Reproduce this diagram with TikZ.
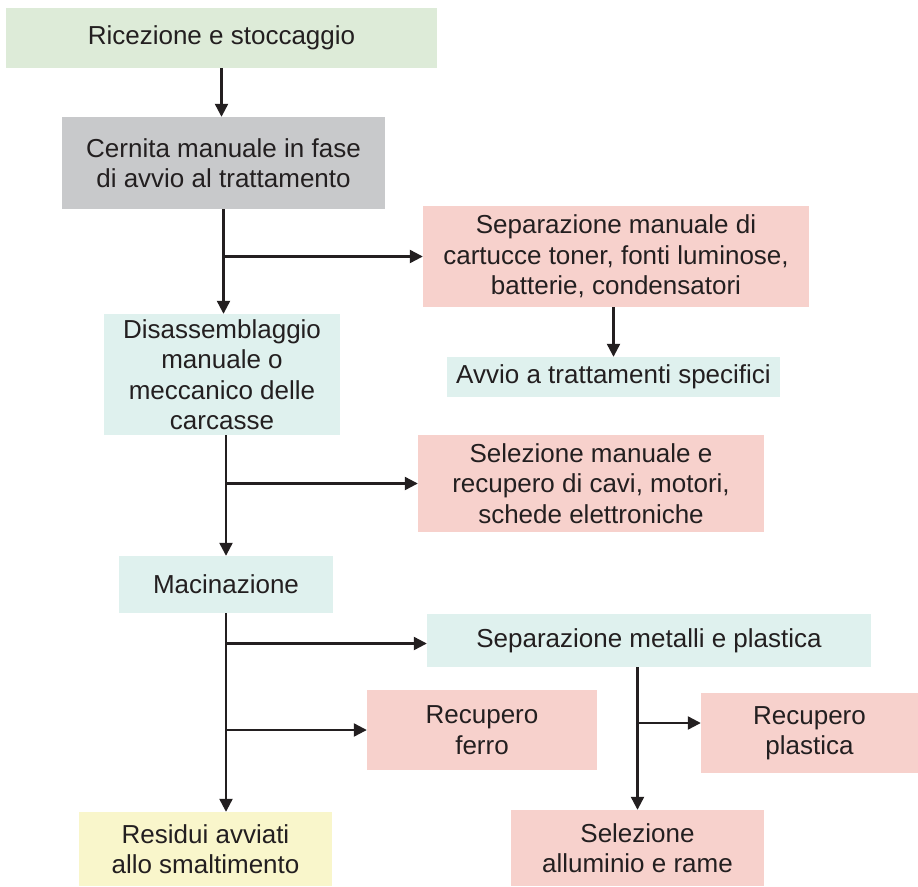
\documentclass[tikz,border=0pt]{standalone}
\usepackage{fontspec}
\setmainfont{Liberation Sans}
\usepackage{tikz}
\usetikzlibrary{arrows.meta,calc}

\definecolor{verde}{HTML}{DDEBD8}
\definecolor{grigio}{HTML}{C8C9CB}
\definecolor{rosa}{HTML}{F7D1CC}
\definecolor{azzurro}{HTML}{DFF1EE}
\definecolor{giallo}{HTML}{F9F6CB}
\definecolor{inchiostro}{HTML}{231F20}

\begin{document}
\begin{tikzpicture}[x=1pt,y=-1pt]
\useasboundingbox (0,0) rectangle (918,886);
\begin{scope}[every node/.style={rectangle,inner sep=0pt,align=center,text=inchiostro,
              font=\fontsize{26}{30.5}\selectfont}]
    \node (A)[fill=verde,minimum width=431pt,minimum height=60pt] at (221.5,38) {Ricezione e stoccaggio};
    \node (B)[fill=grigio,minimum width=323pt,minimum height=92pt] at (223.5,163) {Cernita manuale in fase\\di avvio al trattamento};
    \node (C)[fill=rosa,minimum width=386pt,minimum height=101pt] at (616,256.5) {Separazione manuale di\\cartucce toner, fonti luminose,\\batterie, condensatori};
    \node (D)[fill=azzurro,minimum width=333pt,minimum height=40pt] at (613.5,377) {Avvio a trattamenti specifici};
    \node (E)[fill=azzurro,minimum width=236pt,minimum height=121pt] at (222,374.5) {Disassemblaggio\\manuale o\\meccanico delle\\carcasse};
    \node (F)[fill=rosa,minimum width=346pt,minimum height=97pt] at (591,483.5) {Selezione manuale e\\recupero di cavi, motori,\\schede elettroniche};
    \node (G)[fill=azzurro,minimum width=214pt,minimum height=57pt] at (226,584.5) {Macinazione};
    \node (H)[fill=azzurro,minimum width=444pt,minimum height=53pt] at (649,640.5) {Separazione metalli e plastica};
    \node (I)[fill=rosa,minimum width=230pt,minimum height=80pt] at (482,730) {Recupero\\ferro};
    \node (J)[fill=rosa,minimum width=217pt,minimum height=80pt] at (809.5,733) {Recupero\\plastica};
    \node (K)[fill=rosa,minimum width=253pt,minimum height=76pt] at (637.5,848) {Selezione\\alluminio e rame};
    \node (L)[fill=giallo,minimum width=253pt,minimum height=74pt] at (205.5,849) {Residui avviati\\allo smaltimento};
\end{scope}

\begin{scope}[every edge/.style={draw=inchiostro,line width=2.3pt,
              -{Triangle[length=13pt,width=13pt]}}]
    \path  (A.south) edge (A.south |- B.north);
    \path  (B.south) edge (B.south |- E.north);
    \path  (B.south |- C.west) edge (C.west);
    \path  (D.north |- C.south) edge (D.north);
    \path  (G.north |- E.south) edge (G.north);
    \path  (G.north |- F.west) edge (F.west);
    \path  (G.south) edge (G.south |- L.north);
    \path  ($(G.south |- H.west)+(0,3)$) edge ($(H.west)+(0,3)$);
    \path  (G.south |- I.west) edge (I.west);
    \path  (K.north |- H.south) edge (K.north);
    \path  ($(K.north |- J.west)+(0,-10)$) edge ($(J.west)+(0,-10)$);
\end{scope}
\end{tikzpicture}
\end{document}
